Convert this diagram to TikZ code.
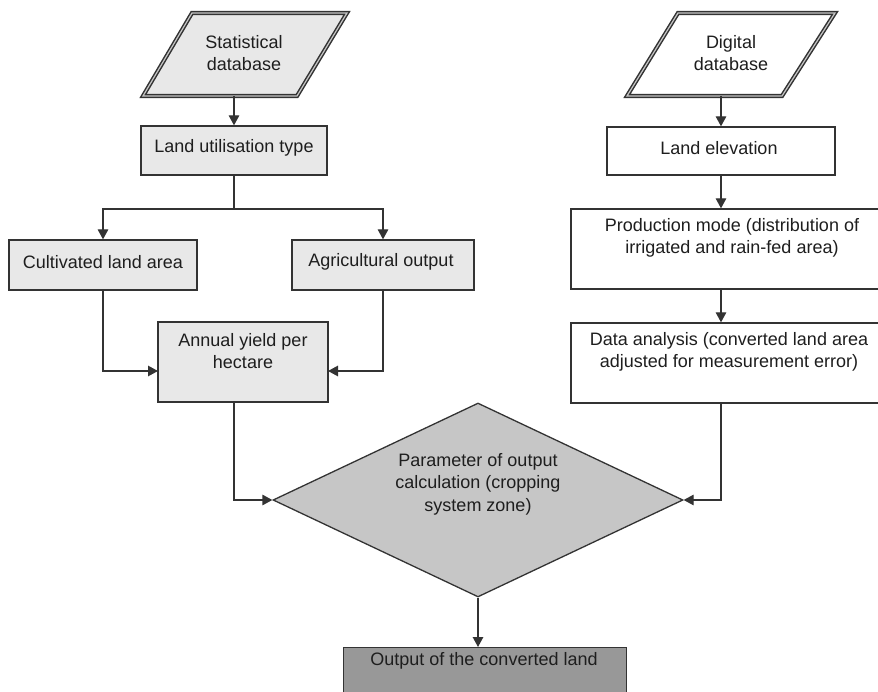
\documentclass[tikz,border=0pt]{standalone}
\usepackage{fontspec}
\setmainfont{Liberation Sans}
\usetikzlibrary{shapes.geometric,arrows.meta}
\definecolor{edgecol}{HTML}{333333}
\definecolor{textcol}{HTML}{1E1E1E}
\definecolor{lightfill}{HTML}{E8E8E8}
\definecolor{midfill}{HTML}{C6C6C6}
\definecolor{darkfill}{HTML}{989898}
\begin{document}
\begin{tikzpicture}[x=1pt,y=-1pt,
  every node/.style={font=\fontsize{18}{22.5}\selectfont, text=textcol},
  boxbase/.style={draw=edgecol, line width=1.3pt, rectangle, inner sep=0pt},
  greybox/.style={boxbase, fill=lightfill},
  whitebox/.style={boxbase, fill=white},
  datashape/.style={draw=edgecol, line width=1.5pt, double=gray!45, double distance=1.2pt},
  label/.style={align=center, inner sep=0pt},
  link/.style={draw=edgecol, line width=1.3pt},
  arr/.style={link, -{Triangle[length=10pt,width=10.5pt]}}]
\useasboundingbox (0,0) rectangle (878,692);
\clip (0,0) rectangle (878,692);

% input data sources (parallelograms)
\path[datashape, fill=lightfill] (192,13) -- (347,13) -- (297,96) -- (143,96) -- cycle;
\node[label] (sdbt) at (244,53) {Statistical\\database};
\coordinate (sdbB) at (234,96);

\path[datashape, fill=white] (678,13) -- (835,13) -- (782,96) -- (627,96) -- cycle;
\node[label] (ddbt) at (731,53) {Digital\\database};
\coordinate (ddbB) at (721,96);

% left branch
\node[greybox, minimum width=186pt, minimum height=49pt] (lut) at (234,150.5) {};
\node[label] (lutt) at (234,148) {Land utilisation type};

\node[greybox, minimum width=188pt, minimum height=50pt] (cla) at (103,265) {};
\node[label] (clat) at (103,262) {Cultivated land area};

\node[greybox, minimum width=182pt, minimum height=50pt] (ago) at (383,265) {};
\node[label] (agot) at (381,262) {Agricultural output};

\node[greybox, minimum width=170pt, minimum height=80pt] (ayh) at (243,362) {};
\node[label] (ayht) at (243,351) {Annual yield per\\hectare};
\coordinate (ayhL) at (158,371);
\coordinate (ayhR) at (328,371);
\coordinate (ayhB) at (234,402);

% right branch
\node[whitebox, minimum width=228pt, minimum height=48pt] (lel) at (721,151) {};
\node[label] (lelt) at (719,148) {Land elevation};

\node[whitebox, minimum width=322pt, minimum height=80pt] (pm) at (732,249) {};
\node[label] (pmt) at (732,238) {Production mode (distribution of\\irrigated and rain-fed area)};

\node[whitebox, minimum width=322pt, minimum height=80pt] (da) at (732,363) {};
\node[label] (dat) at (729,352) {Data analysis (converted land area\\adjusted for measurement error)};
\coordinate (daB) at (721,403);

% decision and result
\node[draw=edgecol, line width=1.3pt, fill=midfill, diamond, inner sep=0pt,
      minimum width=410pt, minimum height=194pt] (dia) at (478,500) {};
\node[label] (diat) at (478,484) {Parameter of output\\calculation (cropping\\system zone)};

\node[boxbase, fill=darkfill, minimum width=283pt, minimum height=60pt, anchor=north west] (out) at (343,647) {};
\node[label] (outt) at (484,661) {Output of the converted land};

% connectors
\draw[arr] (sdbB) -- (sdbB |- lut.north);
\coordinate (split) at (234,209);
\draw[link] (lut.south) -- (split);
\draw[arr] (split) -| (cla.north);
\draw[arr] (split) -| (ago.north);
\draw[arr] (cla.south) |- (ayhL);
\draw[arr] (ago.south) |- (ayhR);
\draw[arr] (ayhB) |- (dia.west);

\draw[arr] (ddbB) -- (ddbB |- lel.north);
\draw[arr] (lel.south) -- (lel.south |- pm.north);
\draw[arr] (pm.south -| lel.south) -- (da.north -| lel.south);
\draw[arr] (daB) |- (dia.east);

\draw[arr] (dia.south) -- (dia.south |- out.north);
\end{tikzpicture}
\end{document}
